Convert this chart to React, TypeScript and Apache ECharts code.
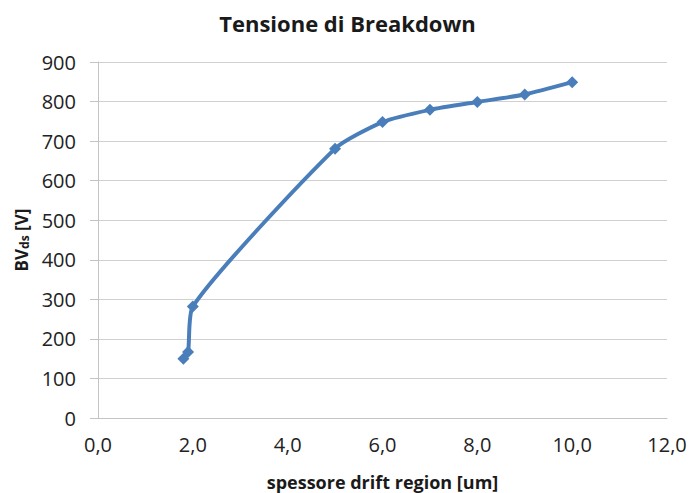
import React, { useEffect, useRef } from "react";
import * as echarts from "echarts";

const xValues = [1.8, 1.9, 2.0, 5.0, 6.0, 7.0, 8.0, 9.0, 10.0];
const yValues = [150, 167, 282, 681, 748, 779, 799, 818, 849];
const titleText = "Tensione di Breakdown";
const xAxisName = "spessore drift region [um]";
const yAxisName = "{m|BV}{s|ds}{m| [V]}";

export default function App() {
  const ref = useRef<HTMLDivElement>(null);
  useEffect(() => {
    if (!ref.current) return;
    const chart = echarts.init(ref.current, null, { renderer: "svg" });
    const font = "'Open Sans', sans-serif";
    chart.setOption({
      animation: false,
      backgroundColor: "#ffffff",
      title: {
        text: titleText,
        left: "center",
        top: 7,
        textStyle: { fontFamily: font, fontSize: 22, fontWeight: "bold", color: "#1a1a1a" },
      },
      grid: { left: 98, right: 28, top: 62, bottom: 75, containLabel: false, outerBoundsMode: "none" },
      xAxis: {
        type: "value",
        min: 0,
        max: 12,
        interval: 2,
        name: xAxisName,
        nameLocation: "middle",
        nameGap: 55,
        nameTextStyle: { fontFamily: font, fontSize: 18, fontWeight: "bold", color: "#1a1a1a" },
        axisLine: { show: true, lineStyle: { color: "#c4c4c4", width: 1 } },
        axisTick: { show: false },
        splitLine: { show: false },
        axisLabel: {
          fontFamily: font,
          fontSize: 20,
          color: "#222",
          margin: 16,
          formatter: (v: number) => v.toFixed(1).replace(".", ","),
        },
      },
      yAxis: {
        type: "value",
        min: 0,
        max: 900,
        interval: 100,
        name: yAxisName,
        nameLocation: "middle",
        nameGap: 66,
        nameRotate: 90,
        nameTextStyle: {
          fontFamily: font,
          fontWeight: "bold",
          color: "#1a1a1a",
          rich: {
            m: { fontFamily: font, fontSize: 17, fontWeight: "bold", color: "#1a1a1a" },
            s: { fontFamily: font, fontSize: 12, fontWeight: "bold", color: "#1a1a1a", padding: [6, 0, 0, 0] },
          },
        },
        axisLine: { show: true, lineStyle: { color: "#c4c4c4", width: 1 } },
        axisTick: { show: true, length: 8, lineStyle: { color: "#c4c4c4" } },
        splitLine: { show: true, lineStyle: { color: "#d0d0d0", width: 1 } },
        axisLabel: { fontFamily: font, fontSize: 20, color: "#222", margin: 22 },
      },
      series: [
        {
          type: "line",
          data: xValues.map((x, i) => [x, yValues[i]]),
          smooth: 0.2,
          symbol: "diamond",
          symbolSize: 12,
          lineStyle: { color: "#4a7ebb", width: 4 },
          itemStyle: { color: "#4a7ebb" },
        },
      ],
    });
    return () => chart.dispose();
  }, []);
  return (
    <div
      ref={ref}
      style={{ position: "fixed", left: 0, top: 0, width: 695, height: 493 }}
    />
  );
}
